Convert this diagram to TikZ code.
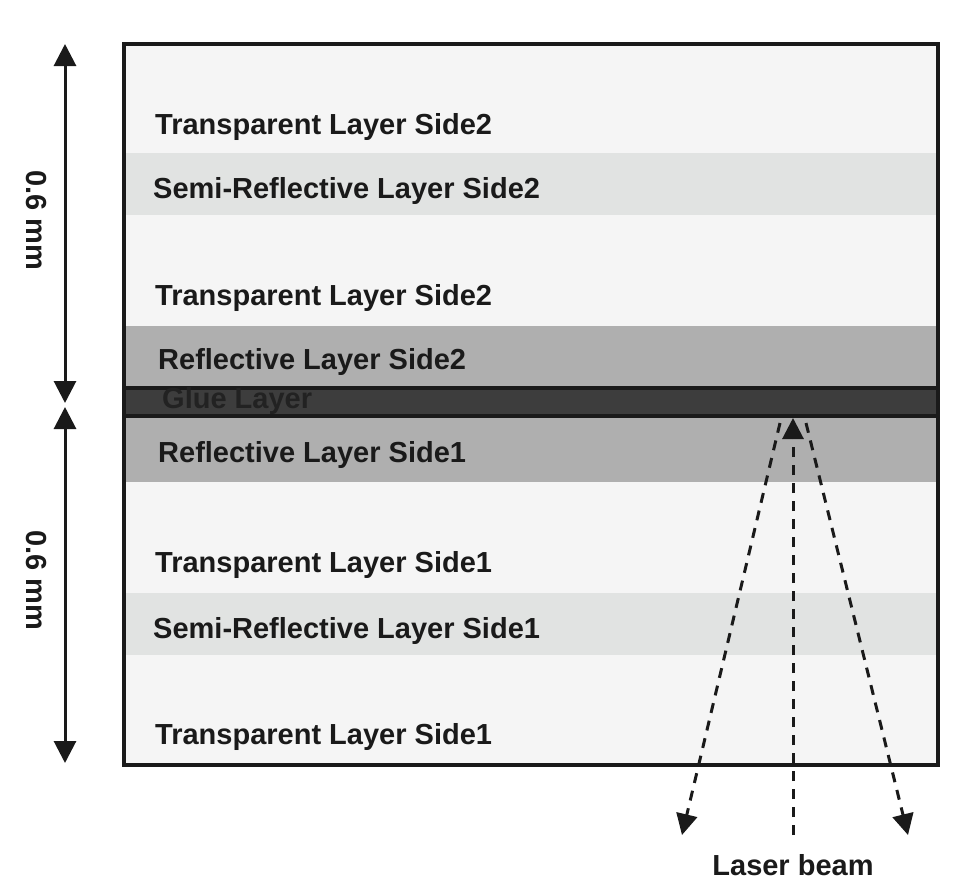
\documentclass[tikz,border=0pt]{standalone}
\usepackage{fontspec}
\setmainfont{Liberation Sans}
\usetikzlibrary{arrows.meta}
\definecolor{transp}{HTML}{F5F5F5}
\definecolor{semi}{HTML}{E1E3E2}
\definecolor{refl}{HTML}{AFAFAF}
\definecolor{glue}{HTML}{3D3D3D}
\definecolor{ink}{HTML}{1A1A1A}
\definecolor{gluetext}{HTML}{222222}
\begin{document}
\begin{tikzpicture}[x=1pt,y=-1pt,
  lbl/.style={anchor=base west,inner sep=0pt,text=ink,font=\fontsize{29}{30}\selectfont\bfseries},
  dimarrow/.style={line width=3pt,draw=ink,{Triangle[length=22pt,width=22pt]}-{Triangle[length=22pt,width=22pt]}},
  beam/.style={line width=3pt,draw=ink,dash pattern=on 10pt off 8pt},
  beamtip/.style={-{Triangle[length=21pt,width=21pt,fill=ink]}}]
\useasboundingbox (0,0) rectangle (975,894);
% layers
\fill[transp] (124,44) rectangle (938,153);
\fill[semi] (124,153) rectangle (938,215);
\fill[transp] (124,215) rectangle (938,326);
\fill[refl] (124,326) rectangle (938,388);
\fill[glue] (124,388) rectangle (938,416);
\fill[refl] (124,416) rectangle (938,482);
\fill[transp] (124,482) rectangle (938,593);
\fill[semi] (124,593) rectangle (938,655);
\fill[transp] (124,655) rectangle (938,765);
\draw[line width=4pt,ink] (124,388) -- (938,388);
\draw[line width=4pt,ink] (124,416) -- (938,416);
\draw[line width=4.5pt,ink] (124,44) rectangle (938,765);
% labels
\node[lbl] (t2a) at (155,134) {Transparent Layer Side2};
\node[lbl] (s2) at (153,198) {Semi-Reflective Layer Side2};
\node[lbl] (t2b) at (155,305) {Transparent Layer Side2};
\node[lbl] (r2) at (158,369) {Reflective Layer Side2};
\node[lbl,text=gluetext] (gl) at (162,408) {Glue Layer};
\node[lbl] (r1) at (158,462) {Reflective Layer Side1};
\node[lbl] (t1a) at (155,572) {Transparent Layer Side1};
\node[lbl] (s1) at (153,638) {Semi-Reflective Layer Side1};
\node[lbl] (t1b) at (155,744) {Transparent Layer Side1};
\node[lbl,anchor=base] (lb) at (793,875) {Laser beam};
% dimension arrows
\coordinate (d1) at (65,44);
\coordinate (d2) at (65,403);
\coordinate (d3) at (65,407);
\coordinate (d4) at (65,763);
\draw[dimarrow] (d1) -- (d2);
\draw[dimarrow] (d3) -- (d4);
\node[lbl,anchor=center,rotate=-90] (m1) at (36,220) {0.6 mm};
\node[lbl,anchor=center,rotate=-90] (m2) at (36,580) {0.6 mm};
% laser beam
\coordinate (apex) at (793,418);
\coordinate (src) at (793,835);
\coordinate (lt) at (780,423);
\coordinate (rt) at (806,423);
\coordinate (le) at (682,835);
\coordinate (re) at (908,835);
\draw[beam,beamtip] (src) -- (apex);
\draw[beam,beamtip] (lt) -- (le);
\draw[beam,beamtip] (rt) -- (re);
\end{tikzpicture}
\end{document}
